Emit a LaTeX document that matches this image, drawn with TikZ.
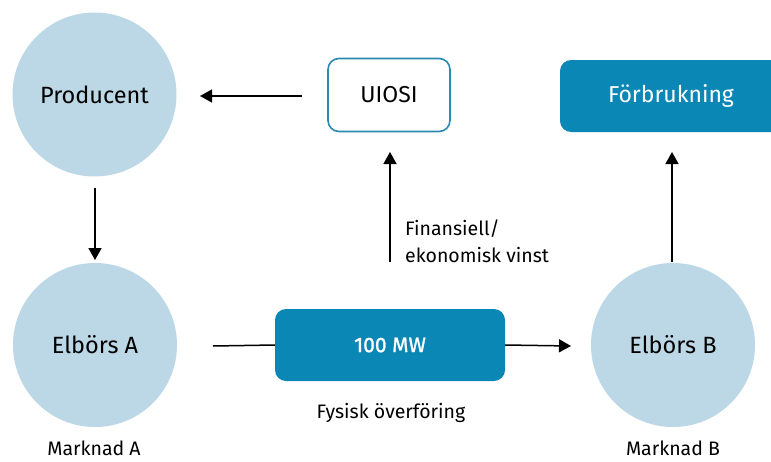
\documentclass[tikz,border=0pt]{standalone}
\usepackage{fontspec}
\setmainfont{Fira Sans}
\newfontfamily\heavyfont[FakeBold=1.2]{Fira Sans}
\usetikzlibrary{arrows.meta}
\definecolor{market}{HTML}{BCD7E5}
\definecolor{flowblue}{HTML}{0A87B5}
\definecolor{edgeblue}{HTML}{2A8AB0}
\tikzset{
  market/.style={circle, fill=market, minimum size=164pt, inner sep=0pt, font=\fontsize{23.5}{28}\selectfont},
  solidbox/.style={rounded corners=11pt, fill=flowblue, text=white, inner sep=0pt, font=\fontsize{23}{27}\selectfont},
  outlinebox/.style={rounded corners=11pt, draw=edgeblue, line width=1.6pt, fill=white, inner sep=0pt, font=\fontsize{23}{27}\selectfont},
  flow/.style={line width=1.5pt, -{Triangle[length=12pt,width=13pt]}},
  plain/.style={line width=1.5pt},
  caption/.style={font=\fontsize{19.5}{27}\selectfont, inner sep=0pt}
}
\begin{document}
\begin{tikzpicture}[x=1pt,y=-1pt]
\useasboundingbox (0,0) rectangle (771,461);
% markets
\node[market] (prod) at (94.5,94.5) {Producent};
\node[market] (elA) at (95,345) {Elbörs A};
\node[market] (elB) at (673,345) {Elbörs B};
% boxes
\node[outlinebox, minimum width=122pt, minimum height=73pt] (uiosi) at (389,95) {UIOSI};
\node[solidbox, minimum width=230pt, minimum height=72pt] (forb) at (675,96) {\hspace*{-8pt}Förbrukning};
\node[solidbox, minimum width=230pt, minimum height=72pt, font=\heavyfont\fontsize{21}{25}\selectfont] (mw) at (390,345) {100 MW};
% free arrow ends
\coordinate (uA) at (302,96);
\coordinate (uB) at (200,96);
\coordinate (pA) at (95,188);
\coordinate (pB) at (95,260);
\coordinate (aA) at (213,346);
\coordinate (bB) at (571,346);
\coordinate (fA) at (390,262);
\coordinate (fB) at (390,152);
\coordinate (cA) at (672,262);
\coordinate (cB) at (672,152);
% connectors
\draw[flow] (uA) -- (uB);
\draw[flow] (pA) -- (pB);
\draw[plain] (aA) -- (mw.west);
\draw[flow] (mw.east) -- (bB);
\draw[flow] (fA) -- (fB);
\draw[flow] (cA) -- (cB);
% labels
\node[caption, anchor=west, align=left] (fin) at (405,241) {Finansiell/\\ekonomisk vinst};
\node[caption, anchor=base] (fys) at (391,418) {Fysisk överföring};
\node[caption, anchor=base] (mA) at (94,455) {Marknad A};
\node[caption, anchor=base] (mB) at (673,455) {Marknad B};
\end{tikzpicture}
\end{document}
